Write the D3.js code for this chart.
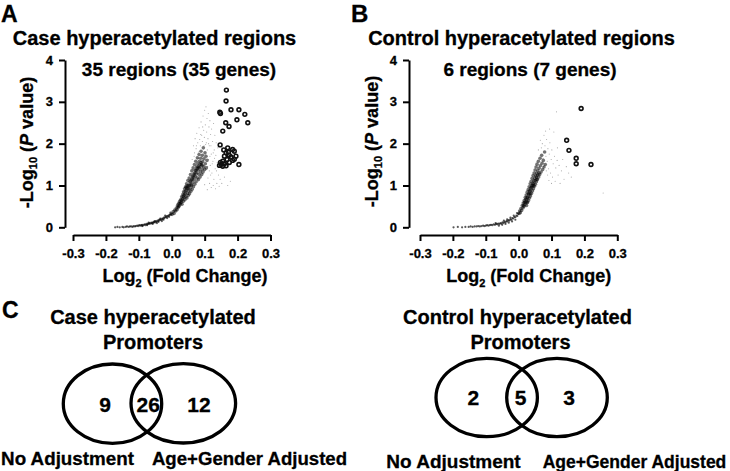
<!DOCTYPE html>
<html><head><meta charset="utf-8">
<script src="https://cdn.jsdelivr.net/npm/d3@7"></script>
<style>body{margin:0;background:#fff}svg{display:block}text{font-family:"Liberation Sans",Arial,Helvetica,sans-serif;font-weight:bold;fill:#000;stroke:#000;stroke-width:0.3px}</style>
</head><body>
<svg id="c" width="730" height="471"></svg>
<script>
// ---------- data ----------
const xTicks = [-0.3, -0.2, -0.1, 0.0, 0.1, 0.2, 0.3];
const yTicks = [0, 1, 2, 3, 4];

const caseSig = [[0.166,3.28],[0.165,3.02],[0.146,2.75],[0.148,2.72],[0.180,2.81],[0.204,2.81],[0.222,2.70],[0.231,2.50],[0.198,2.57],[0.164,2.50],[0.174,2.41],[0.155,2.30],[0.147,1.97],[0.204,1.50],
[0.158,1.85],[0.170,1.90],[0.185,1.86],[0.190,1.82],[0.165,1.78],[0.175,1.72],[0.160,1.70],[0.180,1.68],[0.195,1.70],[0.168,1.62],[0.185,1.60],[0.155,1.58],[0.175,1.55],[0.160,1.52],[0.150,1.50],[0.145,1.48],[0.155,1.46],[0.165,1.47],[0.148,1.55],[0.190,1.63],[0.172,1.80]];

const caseTail = [[-0.172,0.00],[-0.165,0.01],[-0.158,0.00],[-0.150,0.01],[-0.146,0.00],[-0.140,0.01],[-0.136,0.02],[-0.131,0.01],[-0.127,0.02],[-0.123,0.02],[-0.119,0.01],[-0.116,0.03],[-0.112,0.02],[-0.109,0.03],[-0.105,0.04],[-0.102,0.03],[-0.099,0.05],[-0.096,0.04],[-0.093,0.05],[-0.090,0.06],[-0.088,0.04],[-0.085,0.06],[-0.082,0.07],[-0.080,0.05],[-0.077,0.08],[-0.074,0.07],[-0.072,0.09],[-0.069,0.08],[-0.067,0.10],[-0.064,0.09],[-0.062,0.11],[-0.060,0.10],[-0.057,0.12],[-0.055,0.11],[-0.053,0.13],[-0.050,0.12],[-0.048,0.15],[-0.046,0.13],[-0.043,0.16],[-0.041,0.15],[-0.039,0.18],[-0.036,0.17],[-0.034,0.19],[-0.031,0.18],[-0.029,0.21],[-0.027,0.20],[-0.024,0.23],[-0.022,0.22],[-0.019,0.25],[-0.017,0.24],[-0.015,0.27],[-0.012,0.26],[-0.010,0.28],[-0.007,0.29],[-0.005,0.31],[-0.002,0.30],[0.000,0.33],
[-0.090,0.03],[-0.075,0.05],[-0.070,0.11],[-0.058,0.08],[-0.052,0.15],[-0.045,0.10],[-0.040,0.13],[-0.035,0.21],[-0.030,0.15],[-0.025,0.18],[-0.020,0.28],[-0.014,0.22],[-0.008,0.25],[-0.004,0.35]];

const caseCore = [[0.001,0.31],[0.004,0.37],[0.007,0.33],[0.009,0.41],[0.012,0.39],[0.014,0.46],[0.016,0.42],[0.018,0.53],[0.019,0.47],[0.021,0.57],[0.023,0.51],[0.024,0.62],[0.026,0.56],[0.027,0.66],[0.029,0.60],[0.030,0.73],[0.031,0.55],[0.033,0.68],[0.034,0.79],[0.035,0.62],[0.036,0.85],[0.037,0.71],[0.039,0.92],[0.040,0.66],[0.041,0.80],[0.042,0.97],[0.043,0.73],[0.044,0.88],[0.045,1.04],[0.046,0.70],[0.047,0.93],[0.048,0.81],[0.049,1.12],[0.050,0.76],[0.051,0.99],[0.052,0.87],[0.053,1.18],[0.054,0.80],[0.055,1.06],[0.056,0.94],[0.057,1.26],[0.058,0.86],[0.059,1.13],[0.060,1.00],[0.061,1.35],[0.062,0.91],[0.063,1.21],[0.064,1.08],[0.065,1.42],[0.066,0.97],[0.067,1.28],[0.068,1.15],[0.069,1.50],[0.070,1.03],[0.071,1.36],[0.072,1.22],[0.073,1.58],[0.074,1.09],[0.075,1.44],[0.076,1.30],[0.077,1.18],[0.078,1.66],[0.079,1.52],[0.080,1.37],[0.081,1.14],[0.082,1.27],[0.083,1.74],[0.084,1.58],[0.085,1.44],[0.086,1.20],[0.087,1.33],[0.088,1.65],[0.089,1.82],[0.090,1.50],[0.091,1.26],[0.092,1.39],[0.093,1.72],[0.094,1.57],[0.095,1.32],[0.096,1.90],[0.097,1.45],[0.098,1.64],[0.100,1.38],[0.101,1.78],[0.102,1.52],[0.104,1.70],[0.105,1.42],[0.107,1.60],
[0.020,0.50],[0.025,0.58],[0.030,0.65],[0.035,0.74],[0.038,0.78],[0.041,0.86],[0.044,0.95],[0.047,0.99],[0.050,0.92],[0.053,1.00],[0.056,1.10],[0.059,1.02],[0.062,1.15],[0.065,1.20],[0.068,1.25],[0.071,1.30],[0.074,1.36],[0.077,1.40],[0.080,1.45],[0.083,1.42],[0.086,1.50],[0.089,1.55],[0.092,1.48]];

const caseScatter = [[0.062,1.62],[0.066,1.95],[0.069,1.78],[0.071,2.12],[0.074,1.88],[0.076,2.25],[0.079,2.02],[0.081,1.80],[0.083,2.38],[0.085,2.10],[0.087,1.95],[0.089,2.52],[0.091,2.20],[0.093,2.05],[0.095,2.66],[0.097,2.32],[0.099,2.15],[0.100,2.80],[0.102,2.45],[0.103,1.98],[0.104,2.88],[0.106,2.28],[0.107,2.60],[0.108,1.85],[0.110,2.12],[0.111,2.72],[0.112,1.62],[0.113,2.40],[0.114,1.95],[0.116,2.55],[0.117,1.48],[0.118,2.22],[0.120,1.75],[0.121,2.35],[0.122,1.30],[0.124,2.05],[0.125,1.58],[0.127,2.48],[0.128,1.15],[0.129,1.85],[0.131,2.20],[0.132,1.40],[0.134,1.72],[0.135,2.02],[0.137,1.05],[0.138,1.55],[0.140,1.90],[0.142,1.25],[0.144,0.98],[0.147,1.15],[0.152,1.05],[0.160,1.20],[0.170,1.00],[0.178,1.10],[0.120,0.95],[0.115,1.05],[0.110,1.18],[0.126,1.00],[0.133,0.92],[0.108,0.90],[0.100,1.02],[0.118,1.25],[0.123,1.52],[0.130,1.65],[0.136,1.35],[0.114,1.35],[0.109,1.45],[0.119,1.95],[0.126,1.78],[0.098,1.95],[0.094,2.40],[0.088,2.22],[0.080,1.65],[0.075,1.95],[0.068,1.70],[0.105,2.02],[0.112,2.00],[0.116,1.70]];

const ctrlSig = [[0.190,2.84],[0.146,2.08],[0.153,1.84],[0.175,1.65],[0.175,1.52],[0.220,1.50]];

const ctrlTail = [[-0.198,0.00],[-0.185,0.01],[-0.172,0.00],[-0.162,0.01],[-0.152,0.01],[-0.146,0.02],[-0.140,0.01],[-0.134,0.02],[-0.128,0.02],[-0.123,0.03],[-0.118,0.02],[-0.113,0.03],[-0.108,0.04],[-0.104,0.03],[-0.100,0.04],[-0.096,0.05],[-0.092,0.04],[-0.088,0.05],[-0.084,0.06],[-0.080,0.05],[-0.076,0.07],[-0.072,0.06],[-0.068,0.08],[-0.065,0.07],[-0.062,0.09],[-0.058,0.08],[-0.055,0.10],[-0.052,0.09],[-0.049,0.12],[-0.046,0.10],[-0.043,0.13],[-0.040,0.12],[-0.037,0.15],[-0.034,0.14],[-0.031,0.17],[-0.028,0.16],[-0.025,0.19],[-0.022,0.18],[-0.019,0.22],[-0.016,0.21],[-0.013,0.25],[-0.010,0.24],[-0.007,0.28],[-0.004,0.27],[-0.001,0.32],[-0.060,0.04],[-0.050,0.06],[-0.040,0.08],[-0.030,0.11],[-0.020,0.14],[-0.010,0.18],[-0.070,0.10],[-0.045,0.16],[-0.035,0.19],[-0.025,0.23],[-0.015,0.28],[-0.005,0.34]];

const ctrlCore = [[0.001,0.33],[0.003,0.39],[0.005,0.35],[0.007,0.45],[0.009,0.40],[0.011,0.52],[0.013,0.46],[0.014,0.58],[0.016,0.50],[0.017,0.64],[0.019,0.55],[0.020,0.71],[0.021,0.60],[0.023,0.77],[0.024,0.52],[0.025,0.66],[0.026,0.84],[0.027,0.59],[0.028,0.72],[0.029,0.90],[0.030,0.64],[0.031,0.79],[0.032,0.97],[0.033,0.70],[0.034,0.86],[0.035,1.04],[0.036,0.75],[0.037,0.93],[0.038,1.10],[0.039,0.81],[0.040,0.99],[0.041,1.17],[0.042,0.87],[0.043,1.05],[0.044,1.24],[0.045,0.92],[0.046,1.11],[0.047,1.30],[0.048,0.98],[0.049,1.17],[0.050,1.37],[0.051,1.03],[0.052,1.23],[0.053,1.44],[0.054,1.09],[0.055,1.29],[0.056,1.51],[0.057,1.14],[0.058,1.35],[0.060,1.58],[0.061,1.20],[0.062,1.41],[0.064,1.26],[0.065,1.65],[0.066,1.47],[0.068,1.32],[0.070,1.72],[0.071,1.53],[0.073,1.38],[0.075,1.60],[0.077,1.44],[0.079,1.80],[0.081,1.50],
[0.018,0.60],[0.022,0.67],[0.026,0.72],[0.030,0.80],[0.034,0.88],[0.038,0.95],[0.042,1.00],[0.046,1.05],[0.050,1.12],[0.054,1.20],[0.058,1.25],[0.062,1.30],[0.015,0.52],[0.025,0.60],[0.035,0.80],[0.045,0.99],[0.055,1.15]];

const ctrlScatter = [[0.060,1.85],[0.066,2.08],[0.069,1.90],[0.072,2.00],[0.074,1.65],[0.077,2.20],[0.080,1.95],[0.083,1.70],[0.085,2.10],[0.087,1.58],[0.089,1.88],[0.091,1.40],[0.093,1.75],[0.095,2.02],[0.097,1.30],[0.099,1.62],[0.101,1.85],[0.103,1.20],[0.105,1.52],[0.107,2.28],[0.109,1.70],[0.111,1.10],[0.113,1.42],[0.115,2.76],[0.117,1.60],[0.120,1.25],[0.123,1.48],[0.126,1.05],[0.130,1.35],[0.134,1.62],[0.138,1.15],[0.145,1.45],[0.152,1.30],[0.160,1.20],[0.092,1.12],[0.100,1.05],[0.088,1.25],[0.118,1.90],[0.257,0.82],[0.082,2.30],[0.094,2.35],[0.076,1.45],[0.084,1.35]];

const vennLabels = ["No Adjustment", "Age+Gender Adjusted"];
const caseVenn = [9, 26, 12];
const ctrlVenn = [2, 5, 3];

// ---------- layout ----------
const svg = d3.select("#c");
const FONT = '"Liberation Sans",Arial,Helvetica,sans-serif';

const panels = [
  {letter:"A", lx:1, lsize:23, title:"Case hyperacetylated regions", tx:154.5, sub:"35 regions (35 genes)", sx:179,
   yAxisX:65, xr:[73,270.5], ylabX:33, ylabY:142.5, xlabX:185, tail:caseTail, core:caseCore, scatter:caseScatter, sig:caseSig},
  {letter:"B", lx:351, lsize:24, title:"Control hyperacetylated regions", tx:521.5, sub:"6 regions (7 genes)", sx:530,
   yAxisX:409, xr:[420,617.3], ylabX:378, ylabY:141.5, xlabX:528.8, tail:ctrlTail, core:ctrlCore, scatter:ctrlScatter, sig:ctrlSig}
];

panels.forEach(p => {
  const x = d3.scaleLinear().domain([-0.3, 0.3]).range(p.xr);
  const y = d3.scaleLinear().domain([0, 4]).range([227.3, 60]);

  svg.append("text").attr("x", p.lx).attr("y", 22).attr("font-size", p.lsize).text(p.letter);
  svg.append("text").attr("x", p.tx).attr("y", 45).attr("text-anchor","middle").attr("font-size", 20).text(p.title);
  svg.append("text").attr("x", p.sx).attr("y", 76).attr("text-anchor","middle").attr("font-size", 19).text(p.sub);

  const dots = (data, r, op) => svg.append("g").selectAll("circle").data(data).join("circle")
    .attr("cx", d => x(d[0])).attr("cy", d => y(d[1])).attr("r", r)
    .attr("fill", "#000").attr("fill-opacity", op);
  dots(p.scatter, 0.55, 0.35);
  dots(p.tail, 1.1, 0.65);
  dots(p.core, 1.8, 0.55);

  svg.append("g").selectAll("circle").data(p.sig).join("circle")
    .attr("cx", d => x(d[0])).attr("cy", d => y(d[1])).attr("r", 1.9)
    .attr("fill", "none").attr("stroke", "#111").attr("stroke-width", 1.6);

  const gx = svg.append("g").attr("transform", "translate(0,235)")
    .call(d3.axisBottom(x).tickValues(xTicks).tickSize(6).tickSizeOuter(0).tickPadding(8).tickFormat(d => d.toFixed(1)));
  const gy = svg.append("g").attr("transform", `translate(${p.yAxisX},0)`)
    .call(d3.axisLeft(y).tickValues(yTicks).tickSize(6).tickSizeOuter(0).tickPadding(6).tickFormat(d3.format("d")));
  [gx, gy].forEach(g => {
    g.select(".domain").attr("stroke", "#000").attr("stroke-width", 2);
    g.selectAll(".tick line").attr("stroke", "#000").attr("stroke-width", 2);
    g.selectAll(".tick text").attr("font-family", FONT).attr("font-weight", "bold").attr("font-size", 13).attr("fill", "#000");
  });

  const yl = svg.append("text").attr("transform", `translate(${p.ylabX},${p.ylabY}) rotate(-90)`)
    .attr("text-anchor", "middle").attr("font-size", 18);
  yl.append("tspan").text("-Log");
  yl.append("tspan").attr("font-size", 11).attr("dy", 4).text("10");
  yl.append("tspan").attr("dy", -4).text(" (");
  yl.append("tspan").attr("font-style", "italic").text("P");
  yl.append("tspan").text(" value)");

  const xl = svg.append("text").attr("x", p.xlabX).attr("y", 282.3).attr("text-anchor", "middle").attr("font-size", 18);
  xl.append("tspan").text("Log");
  xl.append("tspan").attr("font-size", 11).attr("dy", 5).text("2");
  xl.append("tspan").attr("dy", -5).text(" (Fold Change)");
});

// ---------- Venn panel C ----------
svg.append("text").attr("x", 2).attr("y", 318.3).attr("font-size", 23).text("C");

const venns = [
  {t1:"Case hyperacetylated", t1x:153, t2x:153, t2y:348.5, counts:caseVenn,
   e:[{cx:112.5, cy:403.7, rx:49.2, ry:39.7},{cx:183.3, cy:403.3, rx:52.3, ry:39.7}],
   nx:[105,148.3,199], ny:411.5, labX:[67.5,249.5], labY:465, labSize:[18.8,18.6]},
  {t1:"Control hyperacetylated", t1x:517.5, t2x:520.5, t2y:349, counts:ctrlVenn,
   e:[{cx:486.7, cy:397.5, rx:50.7, ry:39.2},{cx:557, cy:397.5, rx:50.3, ry:39.2}],
   nx:[473.3,520.7,569], ny:405, labX:[453.5,634.5], labY:468, labSize:[19,17.5]}
];

venns.forEach(v => {
  svg.append("text").attr("x", v.t1x).attr("y", 324).attr("text-anchor","middle").attr("font-size", 20).text(v.t1);
  svg.append("text").attr("x", v.t2x).attr("y", v.t2y).attr("text-anchor","middle").attr("font-size", 20).text("Promoters");
  svg.append("g").selectAll("ellipse").data(v.e).join("ellipse")
    .attr("cx", d => d.cx).attr("cy", d => d.cy).attr("rx", d => d.rx).attr("ry", d => d.ry)
    .attr("fill", "none").attr("stroke", "#000").attr("stroke-width", 3.3);
  svg.append("g").selectAll("text").data(v.counts).join("text")
    .attr("x", (d, i) => v.nx[i]).attr("y", v.ny).attr("text-anchor", "middle").attr("font-size", 21).text(d => d);
  svg.append("g").selectAll("text").data(vennLabels).join("text")
    .attr("x", (d, i) => v.labX[i]).attr("y", v.labY).attr("text-anchor", "middle").attr("font-size", (d, i) => v.labSize[i]).text(d => d);
});
</script>
</body></html>
